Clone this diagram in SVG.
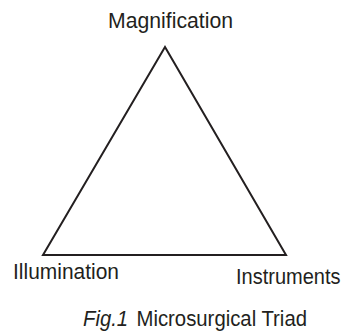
<svg xmlns="http://www.w3.org/2000/svg" width="347" height="336" viewBox="0 0 347 336">
<style>
.lbl{font-family:"Liberation Sans",Arial,sans-serif;font-size:22px;fill:#231f20}
.edge{fill:none;stroke:#231f20;stroke-width:2;stroke-linejoin:miter}
</style>
<rect width="347" height="336" fill="#fff"/>
<g id="connectors">
<polygon class="edge" points="165,47 43,255 286,255"/>
</g>
<g id="magnification"><text class="lbl" x="108" y="28" textLength="125" lengthAdjust="spacingAndGlyphs">Magnification</text></g>
<g id="illumination"><text class="lbl" x="13" y="279" textLength="106" lengthAdjust="spacingAndGlyphs">Illumination</text></g>
<g id="instruments"><text class="lbl" transform="translate(236,284) scale(0.91,1)">Instruments</text></g>
<g id="caption"><text class="lbl" x="83" y="326" textLength="224" lengthAdjust="spacingAndGlyphs"><tspan font-style="italic">Fig.1</tspan><tspan dx="9">Microsurgical Triad</tspan></text></g>
</svg>
